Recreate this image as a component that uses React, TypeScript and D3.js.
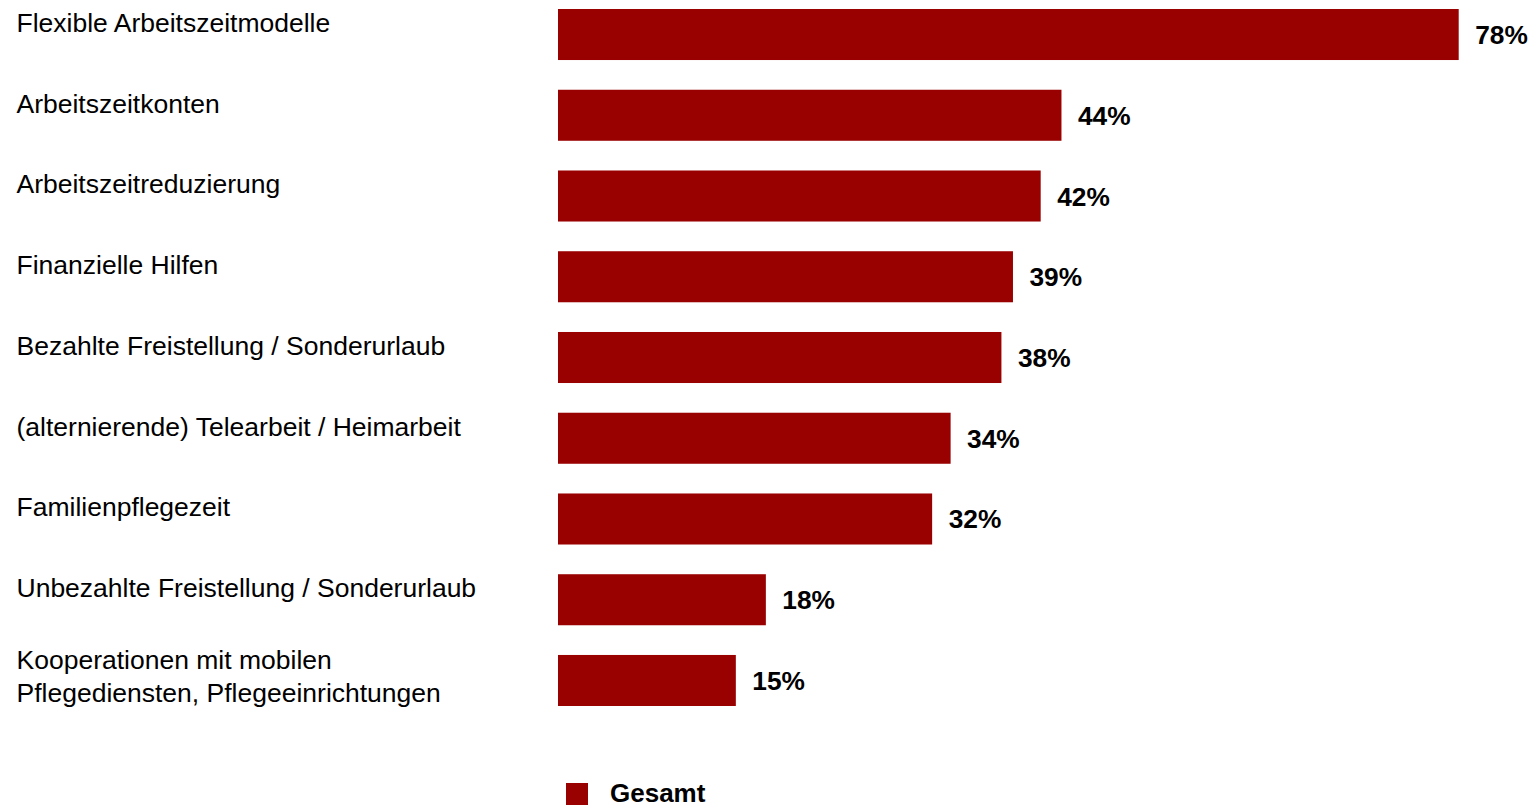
import React from "react";
import * as d3 from "d3";

const categories: string[][] = [
  ["Flexible Arbeitszeitmodelle"],
  ["Arbeitszeitkonten"],
  ["Arbeitszeitreduzierung"],
  ["Finanzielle Hilfen"],
  ["Bezahlte Freistellung / Sonderurlaub"],
  ["(alternierende) Telearbeit / Heimarbeit"],
  ["Familienpflegezeit"],
  ["Unbezahlte Freistellung / Sonderurlaub"],
  ["Kooperationen mit mobilen", "Pflegediensten, Pflegeeinrichtungen"],
];

const values: number[] = [78, 43.6, 41.8, 39.4, 38.4, 34.0, 32.4, 18.0, 15.4];

const seriesName = "Gesamt";
const barColor = "#990000";

const W = 1533;
const H = 808;
const FONT = "'Liberation Sans', Arial, Helvetica, sans-serif";

export default function App() {
  const x = d3.scaleLinear().domain([0, 78]).range([558, 1458.7]);
  const y = d3
    .scaleBand<number>()
    .domain(d3.range(categories.length))
    .range([9, 706])
    .paddingInner(0.368)
    .paddingOuter(0);
  const fmt = (v: number) => d3.format(".0f")(v) + "%";

  return (
    <div style={{ position: "absolute", left: 0, top: 0 }}>
      <svg width={W} height={H} style={{ display: "block" }} fontFamily={FONT}>
        <rect x={0} y={0} width={W} height={H} fill="#ffffff" />
        {categories.map((lines, i) => {
          const top = y(i) as number;
          const bw = y.bandwidth();
          const v = values[i];
          const multi = lines.length > 1;
          return (
            <g key={i}>
              <text x={16.5} fontSize={26.5} fill="#000">
                {lines.map((ln, j) => (
                  <tspan key={j} x={16.5} y={(multi ? top + 14 : top + 23) + j * 33}>
                    {ln}
                  </tspan>
                ))}
              </text>
              <rect x={x(0)} y={top} width={x(v) - x(0)} height={bw} fill={barColor} />
              <text
                x={x(v) + 16.5}
                y={top + bw / 2 + 9.5}
                fontSize={26.3}
                fontWeight="bold"
                fill="#000"
              >
                {fmt(v)}
              </text>
            </g>
          );
        })}
        <g>
          <rect x={566} y={783} width={22} height={22} fill={barColor} />
          <text x={610} y={802} fontSize={26} fontWeight="bold" fill="#000">
            {seriesName}
          </text>
        </g>
      </svg>
    </div>
  );
}
